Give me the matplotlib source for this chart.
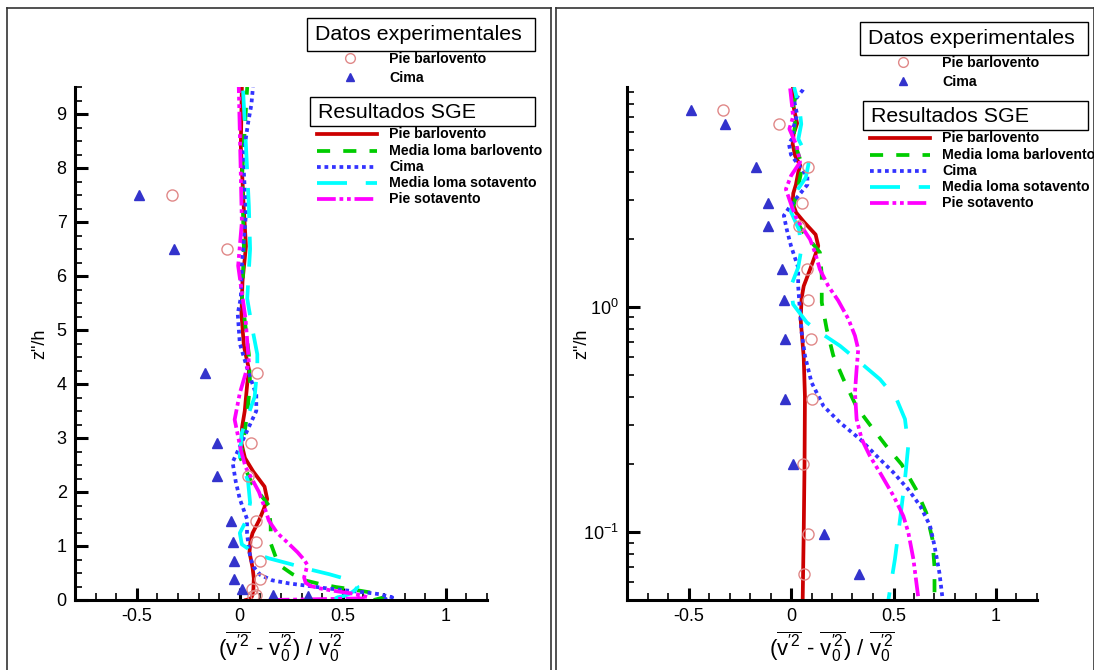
import numpy as np
import matplotlib.pyplot as plt
from matplotlib.patches import Rectangle
from matplotlib.lines import Line2D

plt.rcParams['font.family'] = 'Liberation Sans'
plt.rcParams['mathtext.fontset'] = 'custom'
plt.rcParams['mathtext.rm'] = 'Liberation Sans'
plt.rcParams['mathtext.it'] = 'Liberation Sans'

# Datos experimentales (z/h, valor)
exp_z = [7.5, 6.5, 4.2, 2.9, 2.3, 1.47, 1.08, 0.72, 0.39, 0.2, 0.098, 0.065]
exp_pie = [-0.33, -0.06, 0.085, 0.055, 0.04, 0.077, 0.081, 0.096, 0.10, 0.057, 0.081, 0.065]
exp_cima = [-0.49, -0.32, -0.17, -0.11, -0.11, -0.045, -0.033, -0.03, -0.03, 0.011, 0.162, 0.33]

# Resultados SGE
red_z = [0.0, 0.02, 0.05, 0.1, 0.2, 0.4, 0.6, 0.885, 1.1, 1.24, 1.47, 1.69, 1.87, 2.1, 2.38,
         2.63, 2.9, 3.2, 3.5, 4.0, 4.26, 4.7, 5.3, 5.9, 6.55, 7.2, 8.4, 9.5]
red_x = [0.03, 0.05, 0.057, 0.062, 0.066, 0.068, 0.062, 0.047, 0.052, 0.062, 0.093, 0.117, 0.133,
         0.12, 0.065, 0.025, 0.008, 0.011, 0.024, 0.036, 0.045, 0.02, 0.008, 0.013, 0.03, 0.02, 0.005, 0.01]

green_z = [0.0, 0.05, 0.07, 0.093, 0.122, 0.155, 0.2, 0.24, 0.3, 0.36, 0.48, 0.61, 0.8, 1.05,
           1.38, 1.75, 2.15, 2.63, 3.0, 3.46, 4.0, 4.55, 5.58, 6.5, 7.85, 9.5]
green_x = [0.65, 0.70, 0.70, 0.69, 0.66, 0.61, 0.54, 0.467, 0.385, 0.32, 0.255, 0.206, 0.174, 0.15,
           0.15, 0.141, 0.06, 0.003, 0.02, 0.036, 0.05, 0.044, 0.011, 0.02, 0.011, 0.036]

blue_z = [0.0, 0.05, 0.066, 0.087, 0.107, 0.131, 0.155, 0.184, 0.218, 0.259, 0.307, 0.364, 0.463,
          0.608, 0.77, 0.95, 1.24, 1.5, 1.87, 2.2, 2.55, 2.84, 3.5, 3.8, 4.24, 4.75, 5.3, 5.6,
          6.2, 7.16, 8.2, 8.83, 9.17, 9.5]
blue_x = [0.7, 0.74, 0.724, 0.70, 0.678, 0.63, 0.572, 0.50, 0.418, 0.337, 0.239, 0.158, 0.10,
          0.068, 0.052, 0.044, 0.035, 0.035, 0.0, -0.02, -0.035, 0.0, 0.08, 0.08, 0.04, 0.0,
          -0.01, 0.005, 0.01, 0.03, 0.016, 0.04, 0.056, 0.064]

cyan_z = [0.0, 0.05, 0.076, 0.114, 0.172, 0.242, 0.318, 0.39, 0.478, 0.568, 0.673, 0.772, 0.855,
          1.03, 1.24, 1.5, 1.8, 2.2, 2.65, 3.1, 3.76, 4.3, 4.55, 5.04, 5.58, 6.5, 7.3, 8.4, 9.5]
cyan_x = [0.45, 0.475, 0.507, 0.532, 0.556, 0.572, 0.556, 0.515, 0.434, 0.337, 0.239, 0.141, 0.077,
          0.01, 0.0, 0.035, 0.05, 0.04, 0.0, 0.01, 0.072, 0.085, 0.085, 0.06, 0.036, 0.05, 0.044,
          0.03, 0.015]

mag_z = [0.0, 0.03, 0.052, 0.076, 0.1, 0.118, 0.145, 0.184, 0.218, 0.259, 0.318, 0.418, 0.53,
         0.65, 0.746, 0.885, 1.07, 1.24, 1.47, 1.75, 2.0, 2.46, 2.78, 3.34, 3.83, 4.4, 5.2,
         6.19, 7.0, 7.85, 9.5]
mag_x = [0.15, 0.6, 0.62, 0.597, 0.572, 0.548, 0.50, 0.434, 0.385, 0.345, 0.32, 0.312, 0.32,
         0.328, 0.312, 0.28, 0.23, 0.182, 0.141, 0.117, 0.093, 0.028, 0.005, -0.025, 0.0, 0.044,
         0.028, -0.008, 0.01, 0.005, -0.005]

nombres_sge = ['Pie barlovento', 'Media loma barlovento', 'Cima', 'Media loma sotavento', 'Pie sotavento']
colores = ['#cc0000', '#00cc00', '#3333ff', '#00ffff', '#ff00ff']
guiones = [None, (3.5, 3.5), (1, 1), (8, 5), (5, 1, 1, 1, 1, 1)]
series = [(red_z, red_x), (green_z, green_x), (blue_z, blue_x), (cyan_z, cyan_x), (mag_z, mag_x)]

W, H = 1094, 670
fig = plt.figure(figsize=(W / 100, H / 100), dpi=100)


def fx(x):
    return x / W


def fy(y):
    return 1 - y / H


ax1 = fig.add_axes([fx(75), fy(600), 412 / W, 513 / H])
ax2 = fig.add_axes([fx(627), fy(600), 410 / W, 513 / H])

etiqueta_x = (r'$(\overline{\mathrm{v}^{\prime 2}}\ \text{-}\ \overline{\mathrm{v}^{\prime 2}_{0}})'
              r'\ /\ \overline{\mathrm{v}^{\prime 2}_{0}}$')

for ax in (ax1, ax2):
    for (z, x), c, d in zip(series, colores, guiones):
        ln, = ax.plot(x, z, color=c, lw=2.7, clip_on=True)
        if d is not None:
            ln.set_dashes(d)
    ax.plot(exp_pie, exp_z, 'o', ms=8, mfc='none', mec='#e08888', mew=1)
    ax.plot(exp_cima, exp_z, '^', ms=6.5, color='#3333cc', mec='#3333cc')
    ax.set_xlim(-0.8, 1.2)
    ax.set_xticks([-0.5, 0, 0.5, 1])
    ax.set_xticklabels(['-0.5', '0', '0.5', '1'])
    ax.set_xticks(np.arange(-0.8, 1.21, 0.1), minor=True)
    for s in ('top', 'right'):
        ax.spines[s].set_visible(False)
    for s in ('left', 'bottom'):
        ax.spines[s].set_linewidth(2.2)
    ax.tick_params(which='major', direction='in', length=9, width=2.2, labelsize=13, pad=6)
    ax.tick_params(which='minor', direction='in', length=5, width=1.2)
    ax.set_xlabel(etiqueta_x, fontsize=16, labelpad=3)

ax1.set_ylabel('z"/h', fontsize=13, labelpad=6)
ax1.set_ylim(0, 9.5)
ax1.set_yticks(range(10))
ax1.set_yticks(np.arange(0, 9.51, 0.25), minor=True)

ax2.set_yscale('log')
ax2.set_ylim(0.05, 9.5)
ax2.set_ylabel('z"/h', fontsize=13)
ax2.yaxis.set_label_coords(fx(590 - 627) * W / 410, 0.5)

# marcos de cada panel
for x0, x1 in ((7, 551), (556, 1094)):
    fig.add_artist(Line2D([fx(x0), fx(x0)], [fy(8), fy(672)], color='#333333', lw=1.2))
    fig.add_artist(Line2D([fx(x0), fx(x1)], [fy(8), fy(8)], color='#333333', lw=1.2))
    fig.add_artist(Line2D([fx(x1), fx(x1)], [fy(8), fy(672)], color='#333333', lw=1.2))


def leyenda(dx, dy):
    fig.add_artist(Rectangle((fx(307 + dx), fy(51 + dy)), 228 / W, 33 / H, transform=fig.transFigure,
                             fill=False, ec='black', lw=1))
    fig.text(fx(315 + dx), fy(35 + dy), 'Datos experimentales', fontsize=15.4, va='center')
    fig.add_artist(Line2D([fx(350 + dx)], [fy(58 + dy)], marker='o', ms=7, mfc='none', mec='#e08888', mew=1))
    fig.add_artist(Line2D([fx(350 + dx)], [fy(77 + dy)], marker='^', ms=6, color='#3333cc'))
    fig.text(fx(389 + dx), fy(59 + dy), 'Pie barlovento', fontsize=10.2, weight='bold', va='center')
    fig.text(fx(389 + dx), fy(78 + dy), 'Cima', fontsize=10.2, weight='bold', va='center')
    fig.add_artist(Rectangle((fx(310 + dx), fy(126 + dy)), 225 / W, 29 / H, transform=fig.transFigure,
                             fill=False, ec='black', lw=1))
    fig.text(fx(318 + dx), fy(112 + dy), 'Resultados SGE', fontsize=15.4, va='center')
    filas = [134, 151, 167, 183, 199]
    for yy, n, c, d in zip(filas, nombres_sge, colores, guiones):
        ln = Line2D([fx(317 + dx), fx(377 + dx)], [fy(yy + dy), fy(yy + dy)], color=c, lw=2.7)
        if d is not None:
            ln.set_dashes(d)
        fig.add_artist(ln)
        fig.text(fx(389 + dx), fy(yy + dy), n, fontsize=10.2, weight='bold', va='center')


leyenda(0, 0)
leyenda(553, 4)

fig.savefig('out.png', dpi=100)
